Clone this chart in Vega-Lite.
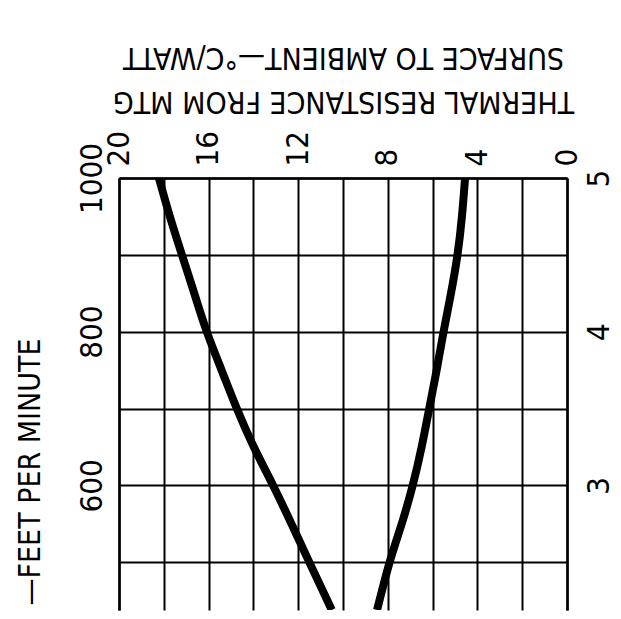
{
  "$schema": "https://vega.github.io/schema/vega-lite/v6.json",
  "width": 448,
  "height": 432,
  "autosize": {"type": "none"},
  "padding": {"left": 119, "top": 178, "right": 54, "bottom": 9},
  "background": "white",
  "config": {
    "view": {"stroke": null},
    "font": "Liberation Sans Narrow, DejaVu Sans Condensed, sans-serif"
  },
  "data": {
    "values": [
      {"curve": "A", "fpm": 1000, "r": 18.22},
      {"curve": "A", "fpm": 950, "r": 17.73},
      {"curve": "A", "fpm": 900, "r": 17.19},
      {"curve": "A", "fpm": 850, "r": 16.64},
      {"curve": "A", "fpm": 800, "r": 16.08},
      {"curve": "A", "fpm": 750, "r": 15.42},
      {"curve": "A", "fpm": 700, "r": 14.74},
      {"curve": "A", "fpm": 650, "r": 13.98},
      {"curve": "A", "fpm": 600, "r": 13.12},
      {"curve": "A", "fpm": 550, "r": 12.3},
      {"curve": "A", "fpm": 500, "r": 11.5},
      {"curve": "A", "fpm": 438, "r": 10.5},
      {"curve": "B", "fpm": 1000, "r": 4.55},
      {"curve": "B", "fpm": 950, "r": 4.69},
      {"curve": "B", "fpm": 900, "r": 4.89},
      {"curve": "B", "fpm": 850, "r": 5.18},
      {"curve": "B", "fpm": 800, "r": 5.51},
      {"curve": "B", "fpm": 750, "r": 5.82},
      {"curve": "B", "fpm": 700, "r": 6.15},
      {"curve": "B", "fpm": 650, "r": 6.49},
      {"curve": "B", "fpm": 600, "r": 6.89},
      {"curve": "B", "fpm": 550, "r": 7.38},
      {"curve": "B", "fpm": 500, "r": 7.92},
      {"curve": "B", "fpm": 438, "r": 8.48}
    ]
  },
  "resolve": {"axis": {"y": "independent", "x": "independent"}},
  "layer": [
    {
      "mark": {"type": "line", "interpolate": "natural", "strokeWidth": 8, "color": "black", "clip": true},
      "encoding": {
        "x": {
          "field": "r",
          "type": "quantitative",
          "scale": {"domain": [0, 20], "reverse": true, "nice": false, "zero": false},
          "axis": {
            "orient": "top",
            "values": [0, 2, 4, 6, 8, 10, 12, 14, 16, 18, 20],
            "grid": true,
            "gridColor": "black",
            "gridWidth": 2,
            "gridOpacity": 1,
            "ticks": false,
            "domain": true,
            "domainColor": "black",
            "domainWidth": 2.5,
            "labelOverlap": false,
            "labelExpr": "datum.value % 4 == 0 ? datum.label : ''",
            "labelAngle": -90,
            "labelAlign": "left",
            "labelBaseline": "middle",
            "labelPadding": 12,
            "labelFontSize": 31,
            "labelColor": "black",
            "title": ["THERMAL RESISTANCE FROM MTG", "SURFACE TO AMBIENT—°C/WATT"],
            "titleAngle": 180,
            "titleAlign": "center",
            "titleBaseline": "top",
            "titleX": 224,
            "titleY": -63,
            "titleFontSize": 30,
            "titleFontWeight": "normal",
            "titleColor": "black",
            "titleLineHeight": 44
          }
        },
        "y": {
          "field": "fpm",
          "type": "quantitative",
          "scale": {"domain": [438, 1000], "nice": false, "zero": false},
          "axis": {
            "orient": "left",
            "values": [500, 600, 700, 800, 900, 1000],
            "format": "d",
            "grid": true,
            "gridColor": "black",
            "gridWidth": 2,
            "gridOpacity": 1,
            "ticks": false,
            "domain": true,
            "domainColor": "black",
            "domainWidth": 2.5,
            "labelOverlap": false,
            "labelExpr": "datum.value % 200 == 0 ? datum.label : ''",
            "labelAngle": -90,
            "labelAlign": "center",
            "labelBaseline": "bottom",
            "labelPadding": 11,
            "labelFontSize": 31,
            "labelColor": "black",
            "title": "—FEET PER MINUTE",
            "titleAngle": -90,
            "titleAlign": "left",
            "titleBaseline": "bottom",
            "titleX": -74,
            "titleY": 427,
            "titleFontSize": 30,
            "titleFontWeight": "normal",
            "titleColor": "black"
          }
        },
        "detail": {"field": "curve"},
        "order": {"field": "fpm"}
      }
    },
    {
      "mark": {"type": "line", "strokeOpacity": 0},
      "encoding": {
        "x": {"field": "r", "type": "quantitative", "axis": null},
        "y": {
          "field": "fpm",
          "type": "quantitative",
          "axis": {
            "orient": "right",
            "values": [600, 800, 1000],
            "format": "d",
            "grid": false,
            "ticks": false,
            "domain": true,
            "domainColor": "black",
            "domainWidth": 2.5,
            "labelOverlap": false,
            "labelExpr": "datum.value == 1000 ? '5' : datum.value == 800 ? '4' : '3'",
            "labelAngle": -90,
            "labelAlign": "center",
            "labelBaseline": "top",
            "labelPadding": 17,
            "labelFontSize": 31,
            "labelColor": "black",
            "title": null
          }
        },
        "detail": {"field": "curve"},
        "order": {"field": "fpm"}
      }
    }
  ]
}
